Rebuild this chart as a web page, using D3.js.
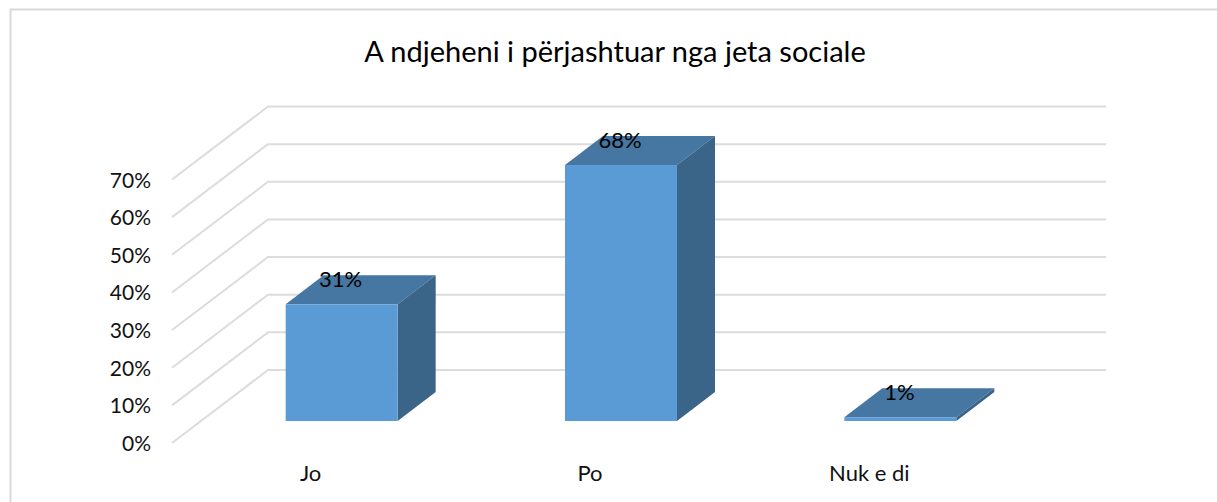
<!DOCTYPE html>
<html>
<head>
<meta charset="utf-8">
<script src="https://cdn.jsdelivr.net/npm/d3@7"></script>
<style>
html, body { margin: 0; padding: 0; background: #fff; }
svg { display: block; }
text { font-family: Lato, sans-serif; fill: #111; }
</style>
</head>
<body>
<div id="chart"></div>
<script>
var categories = ["Jo", "Po", "Nuk e di"];
var values = [31, 68, 1];
var ticks = [0, 10, 20, 30, 40, 50, 60, 70];
var title = "A ndjeheni i përjashtuar nga jeta sociale";

var width = 1217, height = 502;

// front edge of the floor
var x = d3.scaleBand().domain(categories).range([172, 1010]);
var y = d3.scaleLinear().domain([0, 70]).range([443, 179.5]);

// oblique depth of the wall, and where the bars sit in it
var wallX = 96, wallY = -73;
var barOffX = 30, barOffY = -22;
var depthX = 38, depthY = -29;
var barW = 112;

var svg = d3.select("#chart").append("svg")
	.attr("width", width)
	.attr("height", height);

// outer frame, open at the bottom and right
svg.append("path")
	.attr("d", "M10.5," + height + "V9.5H" + width)
	.attr("fill", "none")
	.attr("stroke", "#d9d9d9")
	.attr("stroke-width", 2);

svg.append("text")
	.attr("x", 615)
	.attr("y", 62)
	.attr("text-anchor", "middle")
	.style("font-size", "29px")
	.style("fill", "#000")
	.text(title);

// gridlines: side wall then back wall
svg.selectAll(".grid")
	.data(ticks)
	.enter()
	.append("path")
	.attr("class", "grid")
	.attr("fill", "none")
	.attr("stroke", "#dcdcdc")
	.attr("stroke-width", 2)
	.attr("d", function (d) {
		return "M172," + y(d) + "L" + (172 + wallX) + "," + (y(d) + wallY) + "H" + (1010 + wallX);
	});

svg.selectAll(".tick-label")
	.data(ticks)
	.enter()
	.append("text")
	.attr("class", "tick-label")
	.attr("x", 151)
	.attr("y", function (d) { return y(d) + 8; })
	.attr("text-anchor", "end")
	.style("font-size", "21px")
	.text(function (d) { return d + "%"; });

var bars = svg.selectAll(".bar")
	.data(categories)
	.enter()
	.append("g")
	.attr("class", "bar");

function barLeft(c) { return x(c) + x.bandwidth() / 2 + barOffX - barW / 2; }
function barTop(i) { return y(values[i]) + barOffY; }
var barBottom = y(0) + barOffY;

// top face
bars.append("path")
	.attr("fill", "#4676a2")
	.attr("d", function (c, i) {
		var l = barLeft(c), t = barTop(i);
		return "M" + l + "," + t + "L" + (l + depthX) + "," + (t + depthY) +
			"H" + (l + barW + depthX) + "L" + (l + barW) + "," + t + "Z";
	});

// side face
bars.append("path")
	.attr("fill", "#3a6488")
	.attr("d", function (c, i) {
		var r = barLeft(c) + barW, t = barTop(i);
		return "M" + r + "," + t + "L" + (r + depthX) + "," + (t + depthY) +
			"V" + (barBottom + depthY) + "L" + r + "," + barBottom + "Z";
	});

// front face
bars.append("rect")
	.attr("fill", "#5b9bd5")
	.attr("x", barLeft)
	.attr("y", function (c, i) { return barTop(i); })
	.attr("width", barW)
	.attr("height", function (c, i) { return barBottom - barTop(i); });

bars.append("text")
	.attr("x", function (c) { return barLeft(c) + barW / 2 - 1; })
	.attr("y", function (c, i) { return barTop(i) - 17; })
	.attr("text-anchor", "middle")
	.style("font-size", "22px")
	.style("fill", "#000")
	.text(function (c, i) { return values[i] + "%"; });

svg.selectAll(".cat-label")
	.data(categories)
	.enter()
	.append("text")
	.attr("class", "cat-label")
	.attr("x", function (c) { return x(c) + x.bandwidth() / 2 - 1; })
	.attr("y", 481)
	.attr("text-anchor", "middle")
	.style("font-size", "22px")
	.text(function (c) { return c; });
</script>
</body>
</html>
